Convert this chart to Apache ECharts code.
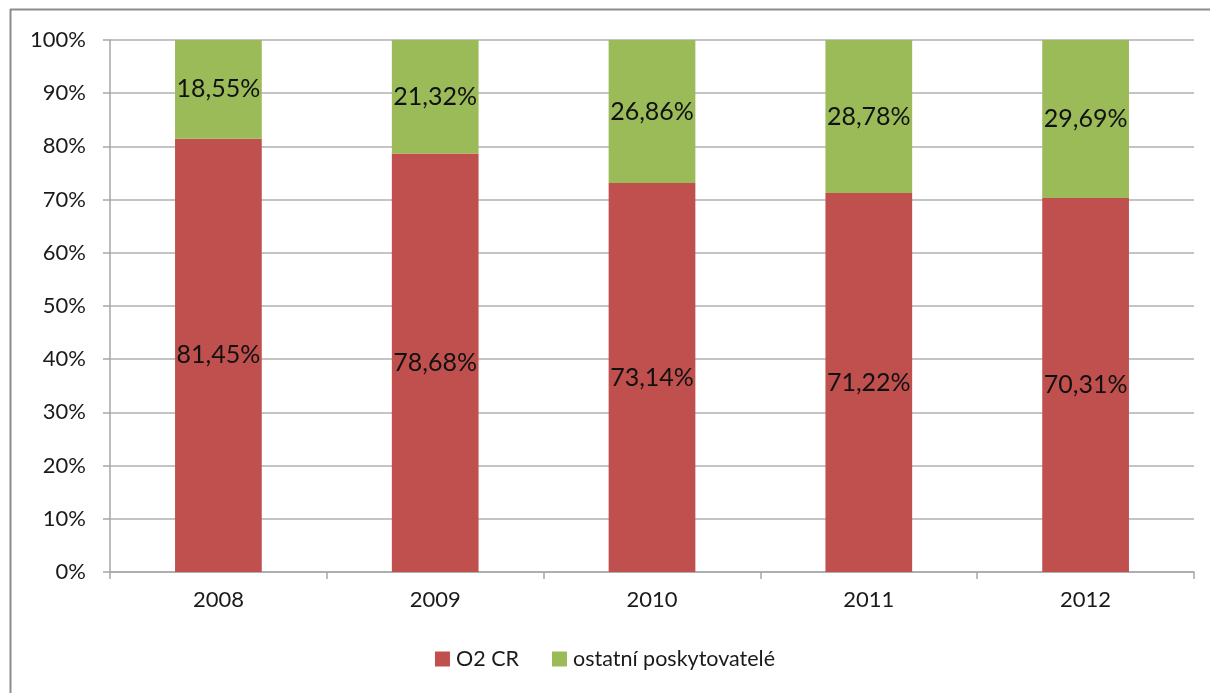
<!DOCTYPE html>
<html>
<head>
<meta charset="utf-8">
<script src="https://cdn.jsdelivr.net/npm/echarts@6/dist/echarts.min.js"></script>
<style>html,body{margin:0;padding:0;background:#fff;}#c{width:1210px;height:693px;}</style>
</head>
<body>
<div id="c"></div>
<script>
var categories = ['2008', '2009', '2010', '2011', '2012'];
var o2cr = [81.45, 78.68, 73.14, 71.22, 70.31];
var ostatni = [18.55, 21.32, 26.86, 28.78, 29.69];
var yTicks = [0, 10, 20, 30, 40, 50, 60, 70, 80, 90, 100];

var FONT = 'Lato, "Open Sans", sans-serif';
function fmt(v) { return v.toFixed(2).replace('.', ',') + '%'; }

var chart = echarts.init(document.getElementById('c'), null, {renderer: 'canvas'});
chart.setOption({
  animation: false,
  backgroundColor: '#fff',
  textStyle: {fontFamily: FONT},
  grid: {left: 110, right: 16, top: 40, bottom: 121, containLabel: false},
  legend: {
    bottom: 18, left: 'center',
    itemWidth: 15, itemHeight: 15, itemGap: 33,
    icon: 'rect',
    textStyle: {fontFamily: FONT, fontSize: 21.5, color: '#1a1a1a', padding: [0, 0, 0, 1]},
    data: ['O2 CR', 'ostatní poskytovatelé']
  },
  xAxis: {
    type: 'category', data: categories,
    boundaryGap: true,
    axisLine: {lineStyle: {color: '#a6a6a6', width: 1.5}},
    axisTick: {show: true, alignWithLabel: false, length: 7, lineStyle: {color: '#a6a6a6', width: 1.5}},
    axisLabel: {fontFamily: FONT, fontSize: 22, color: '#1a1a1a', margin: 17}
  },
  yAxis: {
    type: 'value', min: 0, max: 100, interval: 10,
    axisLine: {show: true, lineStyle: {color: '#a6a6a6', width: 1.5}},
    axisTick: {show: true, length: 7, lineStyle: {color: '#a6a6a6', width: 1.5}},
    splitLine: {show: true, lineStyle: {color: '#b0b0b0', width: 1.5}},
    axisLabel: {fontFamily: FONT, fontSize: 22, color: '#1a1a1a', margin: 24,
      formatter: function (v) { return yTicks.indexOf(v) >= 0 ? v + '%' : ''; }}
  },
  series: [
    {
      name: 'O2 CR', type: 'bar', stack: 'a', data: o2cr, barWidth: '40%',
      itemStyle: {color: '#C0504D'},
      label: {show: true, position: 'inside', fontFamily: FONT, fontSize: 25, color: '#111',
        formatter: function (p) { return fmt(p.value); }}
    },
    {
      name: 'ostatní poskytovatelé', type: 'bar', stack: 'a', data: ostatni, barWidth: '40%',
      itemStyle: {color: '#9BBB59'},
      label: {show: true, position: 'inside', fontFamily: FONT, fontSize: 25, color: '#111',
        formatter: function (p) { return fmt(p.value); }}
    }
  ],
  graphic: [
    {type: 'line', silent: true, shape: {x1: 10, y1: 9.5, x2: 1210, y2: 9.5}, style: {stroke: '#8c8c8c', lineWidth: 2}},
    {type: 'line', silent: true, shape: {x1: 10.5, y1: 9, x2: 10.5, y2: 693}, style: {stroke: '#8c8c8c', lineWidth: 2}}
  ]
});
</script>
</body>
</html>
